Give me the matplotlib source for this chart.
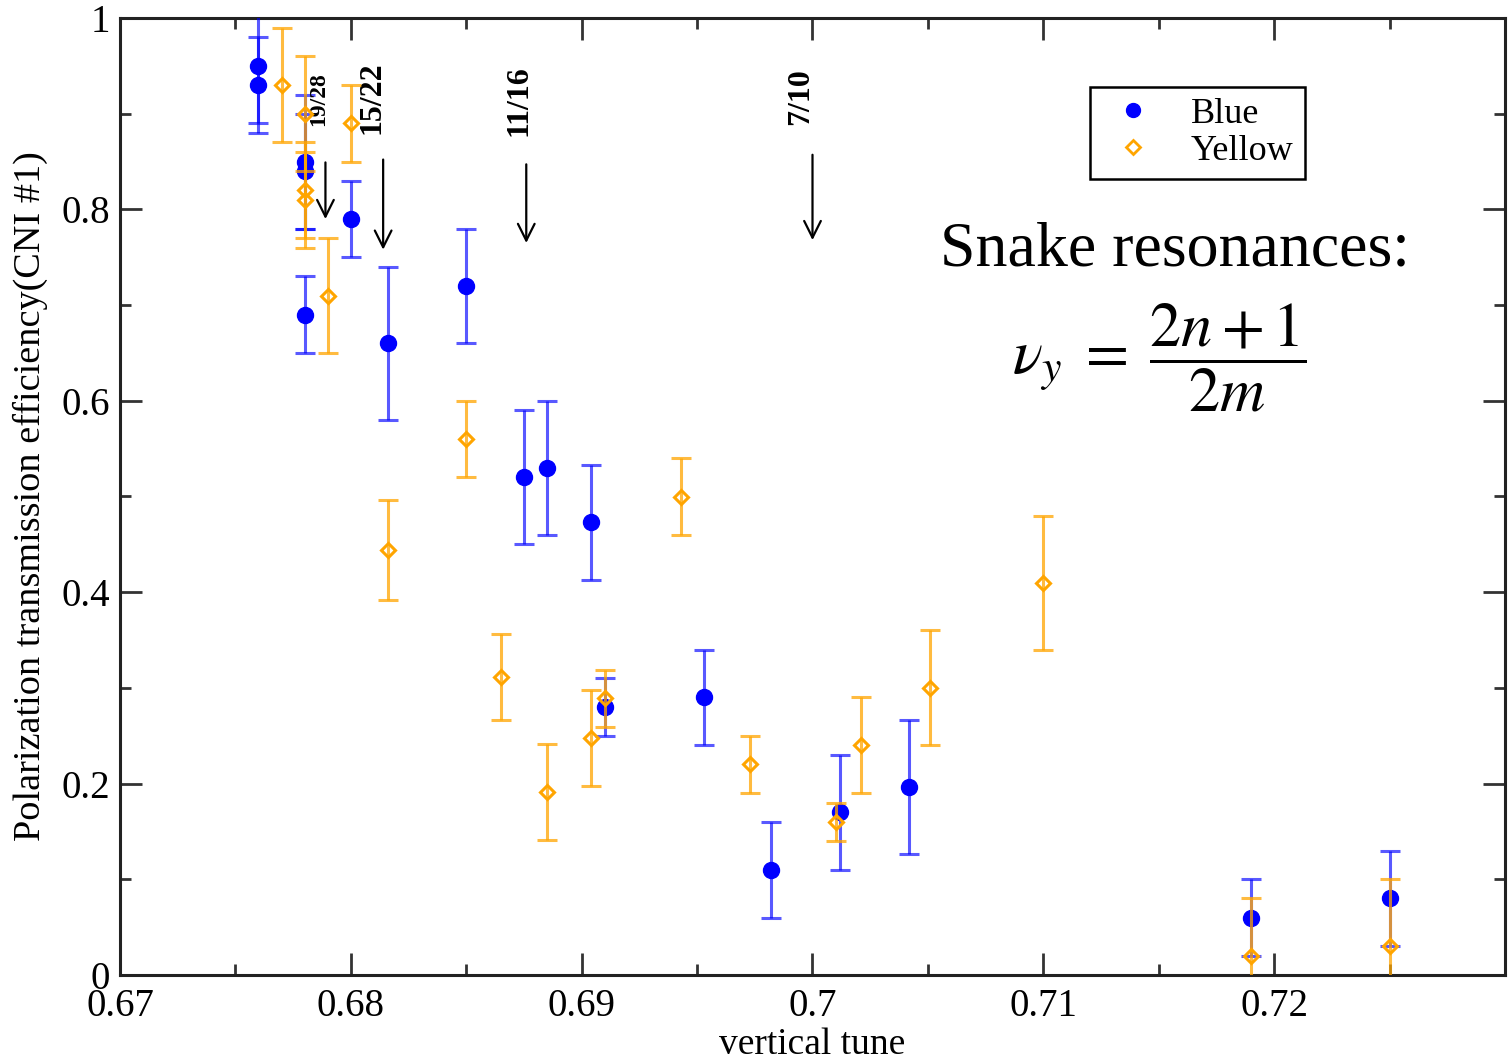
import matplotlib
matplotlib.use("Agg")
import matplotlib.pyplot as plt
from matplotlib.ticker import MultipleLocator, FixedLocator, FixedFormatter
from matplotlib.lines import Line2D

plt.rcParams['font.family'] = ['Liberation Serif', 'DejaVu Serif']
plt.rcParams['mathtext.fontset'] = 'stix'

# Blue ring data
blue_x = [0.6760, 0.6760, 0.6780, 0.6780, 0.6780, 0.6800, 0.6816, 0.6850, 0.6875,
          0.6885, 0.6904, 0.6910, 0.6953, 0.6982, 0.7012, 0.7042, 0.7190, 0.7250]
blue_y = [0.95, 0.93, 0.85, 0.84, 0.69, 0.79, 0.66, 0.72, 0.52,
          0.53, 0.473, 0.28, 0.29, 0.11, 0.17, 0.196, 0.06, 0.08]
blue_err = [0.06, 0.05, 0.07, 0.06, 0.04, 0.04, 0.08, 0.06, 0.07,
            0.07, 0.06, 0.03, 0.05, 0.05, 0.06, 0.07, 0.04, 0.05]

# Yellow ring data
yellow_x = [0.6770, 0.6780, 0.6780, 0.6780, 0.6790, 0.6800, 0.6816, 0.6850, 0.6865,
            0.6885, 0.6904, 0.6910, 0.6943, 0.6973, 0.7010, 0.7021, 0.7051, 0.7100,
            0.7190, 0.7250]
yellow_y = [0.93, 0.90, 0.82, 0.81, 0.71, 0.89, 0.444, 0.56, 0.311,
            0.191, 0.248, 0.289, 0.50, 0.22, 0.16, 0.24, 0.30, 0.41,
            0.02, 0.03]
yellow_err = [0.06, 0.06, 0.05, 0.05, 0.06, 0.04, 0.052, 0.04, 0.045,
              0.05, 0.05, 0.03, 0.04, 0.03, 0.02, 0.05, 0.06, 0.07,
              0.06, 0.07]

# Axis ticks
x_ticks = [0.67, 0.68, 0.69, 0.70, 0.71, 0.72]
x_tick_labels = ['0.67', '0.68', '0.69', '0.7', '0.71', '0.72']
y_ticks = [0.0, 0.2, 0.4, 0.6, 0.8, 1.0]
y_tick_labels = ['0', '0.2', '0.4', '0.6', '0.8', '1']

# Snake resonance annotations
res_labels = ["19/28", "15/22", "11/16", "7/10"]
res_arrow_x = [0.6789, 0.6814, 0.6876, 0.7000]
res_label_x = [0.6786, 0.6809, 0.6873, 0.6995]
res_arrow_top = [0.852, 0.855, 0.850, 0.860]
res_arrow_bot = [0.787, 0.755, 0.762, 0.765]
res_label_y = [0.915, 0.917, 0.914, 0.918]
res_label_size = [17, 23, 23, 23]

fig = plt.figure(figsize=(15.08, 10.60), dpi=100)
ax = fig.add_axes([120/1508, 85/1060, 1385/1508, 957/1060])

ax.errorbar(blue_x, blue_y, yerr=blue_err, fmt='o', color='#0000ff', ms=11.5,
            ecolor=(0.0, 0.0, 1.0, 0.65), elinewidth=2.2, capsize=7, capthick=2.2,
            zorder=3)
ax.errorbar(yellow_x, yellow_y, yerr=yellow_err, fmt='D', color='#ffa500', ms=7,
            mfc='none', mec='#ffa500', mew=2.2,
            ecolor=(1.0, 0.647, 0.0, 0.75), elinewidth=2.2, capsize=7, capthick=2.2,
            zorder=4)

for lab, ax_x, lx, yt, yb, ly, fs in zip(res_labels, res_arrow_x, res_label_x,
                                          res_arrow_top, res_arrow_bot,
                                          res_label_y, res_label_size):
    ax.annotate('', xy=(ax_x, yb), xytext=(ax_x, yt),
                arrowprops=dict(arrowstyle='->', color='black', lw=1.6,
                                mutation_scale=30))
    ax.text(lx, ly, lab, rotation=90, ha='center', va='center',
            fontsize=fs, fontweight='bold')

ax.text(0.7157, 0.757, 'Snake resonances:', ha='center', va='center', fontsize=46)
ax.text(0.7150, 0.645, r'$\nu_y\;=\;\dfrac{2n+1}{2m}$', ha='center', va='center',
        fontsize=45)

ax.set_xlim(0.67, 0.73)
ax.set_ylim(0, 1)
ax.xaxis.set_major_locator(FixedLocator(x_ticks))
ax.xaxis.set_major_formatter(FixedFormatter(x_tick_labels))
ax.xaxis.set_minor_locator(MultipleLocator(0.005))
ax.yaxis.set_major_locator(FixedLocator(y_ticks))
ax.yaxis.set_major_formatter(FixedFormatter(y_tick_labels))
ax.yaxis.set_minor_locator(MultipleLocator(0.1))
ax.tick_params(which='both', direction='in', top=True, right=True,
               color='#333333', width=2)
ax.tick_params(which='major', length=16, labelsize=28)
ax.tick_params(axis='x', which='major', pad=9)
ax.tick_params(axis='y', which='major', pad=7)
ax.tick_params(which='minor', length=8)
for s in ax.spines.values():
    s.set_linewidth(2.2)
    s.set_color('#222222')

ax.set_xlabel('vertical tune', fontsize=27, labelpad=2)
ax.set_ylabel('Polarization transmission efficiency(CNI #1)', fontsize=27.5, labelpad=10)

handles = [Line2D([], [], ls='none', marker='o', color='#0000ff', ms=10),
           Line2D([], [], ls='none', marker='D', color='#ffa500', mfc='none',
                  mew=2, ms=7)]
leg = ax.legend(handles, ['Blue', 'Yellow'], loc='upper left',
                bbox_to_anchor=((1090 - 120) / 1385, 1 - (87 - 18) / 957),
                borderaxespad=0, fontsize=26, frameon=True, fancybox=False,
                edgecolor='black', framealpha=1, handletextpad=0.7,
                borderpad=0.3, labelspacing=0.1, handlelength=1.8)
leg.get_frame().set_linewidth(1.8)

fig.savefig('out.png', dpi=100)
